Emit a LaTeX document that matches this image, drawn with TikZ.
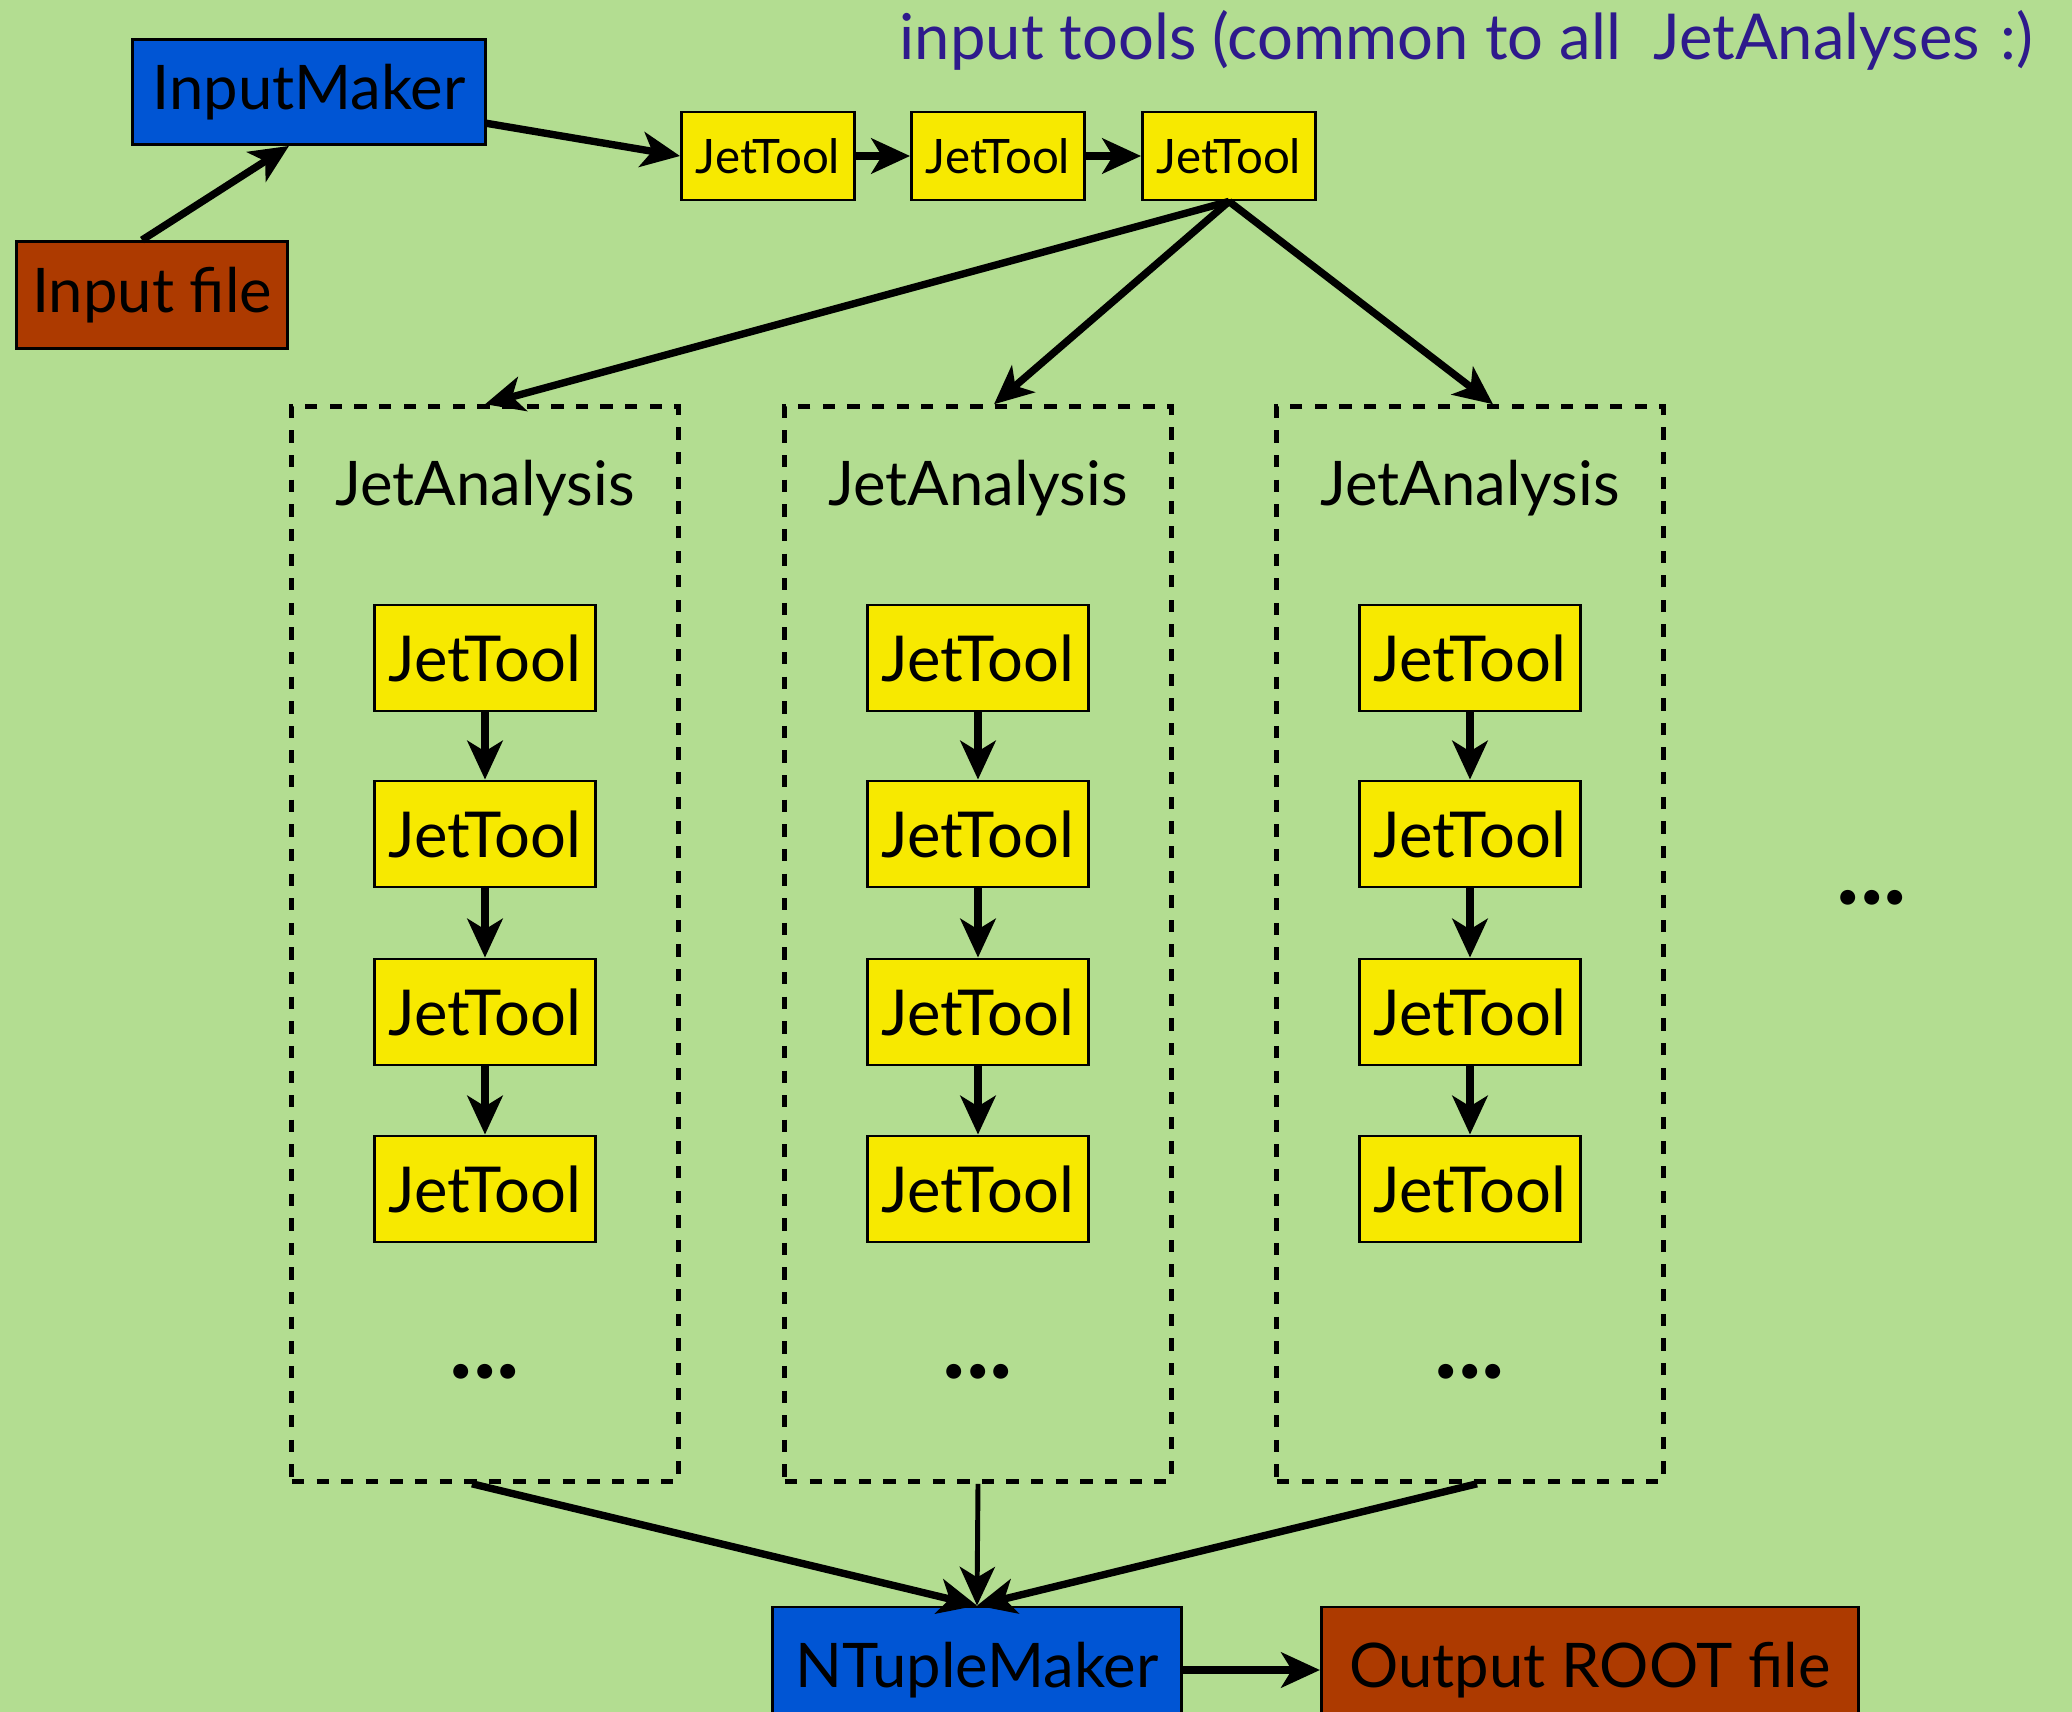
\documentclass[tikz,border=0pt]{standalone}
\usepackage{fontspec}
\setmainfont{Lato}
\usetikzlibrary{arrows.meta}
\definecolor{bggreen}{RGB}{179,221,145}
\definecolor{makerblue}{RGB}{0,85,212}
\definecolor{filebrown}{RGB}{173,58,0}
\definecolor{toolyellow}{RGB}{247,233,0}
\definecolor{titleblue}{RGB}{46,26,140}
\begin{document}
\begin{tikzpicture}[x=0.01cm,y=-0.01cm,
  >={Stealth[length=11pt,width=10pt,inset=3pt]},
  box/.style={draw,line width=0.8pt,inner sep=0pt},
  maker/.style={box,fill=makerblue,font=\fontsize{17.5}{21}\selectfont},
  file/.style={box,fill=filebrown,font=\fontsize{17.5}{21}\selectfont},
  tool/.style={box,fill=toolyellow,minimum width=2.21cm,minimum height=1.06cm,font=\fontsize{18}{21}\selectfont},
  smalltool/.style={box,fill=toolyellow,minimum width=1.73cm,minimum height=0.88cm,font=\fontsize{13.5}{16}\selectfont},
  analysis/.style={draw,line width=1.4pt,dash pattern=on 3.5pt off 3.5pt,minimum width=3.86cm,minimum height=10.74cm},
  dots/.style={font=\fontsize{28}{30}\selectfont\bfseries},
  flow/.style={->,line width=2.1pt}]
\useasboundingbox (0,0) rectangle (2072,1712);
\clip (0,0) rectangle (2072,1712);
\fill[bggreen] (0,0) rectangle (2072,1712);
% input side
\node[anchor=west,inner sep=0pt,text=titleblue,font=\fontsize{18}{21}\selectfont] (title) at (899,40) {input tools (common to all~~JetAnalyses\,\,:)};
\node[maker,minimum width=3.52cm,minimum height=1.05cm] (inmaker) at (309,92) {InputMaker};
\node[file,minimum width=2.71cm,minimum height=1.07cm] (infile) at (152,295) {Input file};
\node[smalltool] (jt1) at (768,156) {JetTool};
\node[smalltool] (jt2) at (998,156) {JetTool};
\node[smalltool] (jt3) at (1229,156) {JetTool};
\draw[flow] ([xshift=-0.1cm]infile.north) -- ([xshift=-0.2cm]inmaker.south);
\draw[flow] (inmaker.-10) -- (jt1.west);
\draw[flow] (jt1) -- (jt2);
\draw[flow] (jt2) -- (jt3);
% the analyses
\node[analysis] (anaA) at (485,944) {};
\node[analysis] (anaB) at (978,944) {};
\node[analysis] (anaC) at (1470,944) {};
\node[font=\fontsize{17.5}{21}\selectfont] (labA) at (485,488) {JetAnalysis};
\node[font=\fontsize{17.5}{21}\selectfont] (labB) at (978,488) {JetAnalysis};
\node[font=\fontsize{17.5}{21}\selectfont] (labC) at (1470,488) {JetAnalysis};
\node[tool] (a1) at (485,658) {JetTool};
\node[tool] (a2) at (485,834) {JetTool};
\node[tool] (a3) at (485,1012) {JetTool};
\node[tool] (a4) at (485,1189) {JetTool};
\node[tool] (b1) at (978,658) {JetTool};
\node[tool] (b2) at (978,834) {JetTool};
\node[tool] (b3) at (978,1012) {JetTool};
\node[tool] (b4) at (978,1189) {JetTool};
\node[tool] (c1) at (1470,658) {JetTool};
\node[tool] (c2) at (1470,834) {JetTool};
\node[tool] (c3) at (1470,1012) {JetTool};
\node[tool] (c4) at (1470,1189) {JetTool};
\draw[flow] (a1) -- (a2);
\draw[flow] (a2) -- (a3);
\draw[flow] (a3) -- (a4);
\draw[flow] (b1) -- (b2);
\draw[flow] (b2) -- (b3);
\draw[flow] (b3) -- (b4);
\draw[flow] (c1) -- (c2);
\draw[flow] (c2) -- (c3);
\draw[flow] (c3) -- (c4);
\node[dots] (dotsA) at (485,1372) {...};
\node[dots] (dotsB) at (978,1372) {...};
\node[dots] (dotsC) at (1470,1372) {...};
\node[dots] (dotsmore) at (1872,898) {...};
\draw[flow] (jt3.south) -- (anaA.north);
\draw[flow] (jt3.south) -- ([xshift=0.16cm]anaB.north);
\draw[flow] (jt3.south) -- ([xshift=0.23cm]anaC.north);
% output side
\node[maker,minimum width=4.08cm,minimum height=1.26cm] (ntuple) at (977,1670) {NTupleMaker};
\node[file,minimum width=5.37cm,minimum height=1.26cm] (outfile) at (1590,1670) {Output ROOT file};
\draw[flow] ([xshift=-0.13cm]anaA.south) -- (ntuple.north);
\draw[->,line width=1.4pt] (anaB.south) -- (ntuple.north);
\draw[flow] ([xshift=0.07cm]anaC.south) -- (ntuple.north);
\draw[flow] (ntuple.east) -- (outfile.west);
\end{tikzpicture}
\end{document}
